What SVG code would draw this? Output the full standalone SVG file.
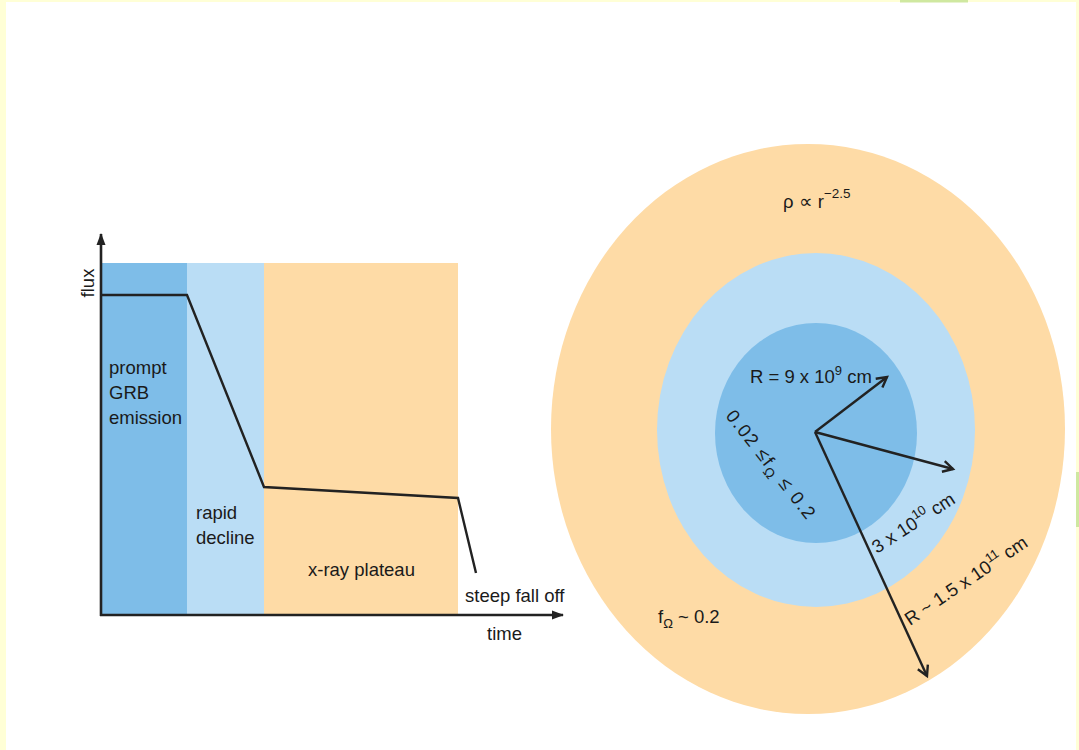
<svg xmlns="http://www.w3.org/2000/svg" width="1079" height="750" viewBox="0 0 1079 750">
<defs>
<style>
text{font-family:"Liberation Sans",Arial,sans-serif;fill:#1a1a1a;font-size:18.5px}
.ln{fill:none;stroke:#222;stroke-width:2.4;stroke-linejoin:miter}
.ax{fill:none;stroke:#222;stroke-width:2.6}
.dk{fill:#7EBDE8}
.lt{fill:#BADDF5}
.or{fill:#FEDBA6}
</style>
<marker id="open" markerUnits="userSpaceOnUse" markerWidth="14" markerHeight="14" refX="11" refY="6" orient="auto" viewBox="0 0 14 12">
<path d="M1,0.5 L11,6 L1,11.5" fill="none" stroke="#222" stroke-width="2.4"/>
</marker>
<marker id="tri" markerUnits="userSpaceOnUse" markerWidth="12" markerHeight="10" refX="11" refY="5" orient="auto" viewBox="0 0 12 10">
<path d="M0,0.5 L12,5 L0,9.5 Z" fill="#222"/>
</marker>
</defs>
<rect x="0" y="0" width="1079" height="750" fill="#FFFFD6"/>
<rect x="6" y="2" width="1070" height="748" fill="#FFFFFF"/>
<rect x="900" y="0" width="68" height="2.5" fill="#CFE8A0"/>
<rect x="1076" y="472" width="3" height="55" fill="#CFE8A0"/>

<g id="chart">
<rect class="dk" x="101" y="263" width="86" height="352"/>
<rect class="lt" x="187" y="263" width="77" height="352"/>
<rect class="or" x="264" y="263" width="194" height="352"/>
</g>

<g id="connectors">
<path class="ax" d="M101,616 L101,234" marker-end="url(#tri)"/>
<path class="ax" d="M100,615 L563,615" marker-end="url(#tri)"/>
<path class="ln" d="M101,295 L187,295 L264,487 L458,498 L476,573"/>
</g>

<g id="chart-labels">
<text transform="translate(94,283) rotate(-90)" text-anchor="middle" font-size="20">flux</text>
<text x="109" y="374">prompt</text>
<text x="109" y="399">GRB</text>
<text x="109" y="424">emission</text>
<text x="196" y="519">rapid</text>
<text x="196" y="544">decline</text>
<text x="308" y="576">x-ray plateau</text>
<text x="465" y="602">steep fall off</text>
<text x="487" y="640" font-size="19.5">time</text>
</g>

<g id="outer-shell">
<ellipse class="or" cx="808" cy="429" rx="257" ry="285"/>
</g>
<g id="middle-shell">
<ellipse class="lt" cx="816" cy="430" rx="159" ry="177"/>
</g>
<g id="inner-core">
<ellipse class="dk" cx="816" cy="433" rx="101" ry="110"/>
</g>

<g id="radii">
<path class="ln" d="M815,432 L887,377" marker-end="url(#open)"/>
<path class="ln" d="M815,432 L953,469" marker-end="url(#open)"/>
<path class="ln" d="M815,432 L927,676" marker-end="url(#open)"/>
</g>

<g id="shell-labels">
<text x="783" y="208">ρ ∝ r<tspan dy="-10" font-size="13.5">−2.5</tspan></text>
<text x="750" y="383">R = 9 x 10<tspan dy="-8" font-size="13">9</tspan><tspan dy="8"> cm</tspan></text>
<text transform="translate(725,416) rotate(52)" font-size="20" letter-spacing="1.5">0.02 ≤f<tspan dy="5" font-size="14">Ω</tspan><tspan dy="-5"> ≤ 0.2</tspan></text>
<text transform="translate(877,554) rotate(-33)">3 x 10<tspan dy="-8" font-size="13">10</tspan><tspan dy="8"> cm</tspan></text>
<text transform="translate(910,626) rotate(-34)">R ~ 1.5 x 10<tspan dy="-8" font-size="13">11</tspan><tspan dy="8"> cm</tspan></text>
<text x="658" y="623">f<tspan dy="5" font-size="13">Ω</tspan><tspan dy="-5"> ~ 0.2</tspan></text>
</g>
</svg>
